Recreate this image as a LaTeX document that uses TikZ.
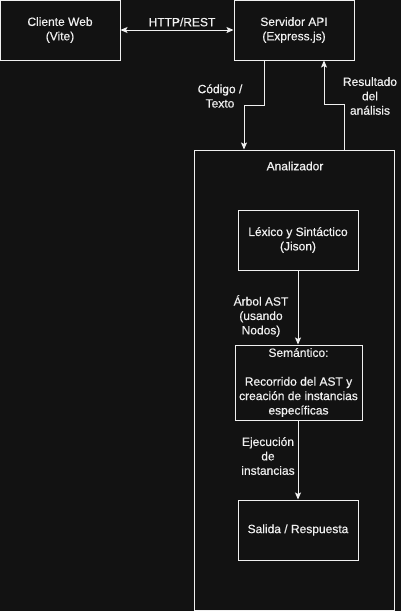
\documentclass[tikz,border=0pt]{standalone}
\usepackage{fontspec}
\setmainfont{Liberation Sans}[UprightFeatures={FakeBold=0.5}]
\usetikzlibrary{arrows.meta}
\definecolor{fondo}{HTML}{121212}
\definecolor{trazo}{HTML}{F0F0F0}

\tikzset{
	caja/.style={draw=trazo, line width=1pt, fill=fondo, text=trazo, align=center,
		minimum width=120pt, minimum height=60pt, inner sep=0pt,
		font=\fontsize{12}{14.4}\selectfont},
	etiqueta/.style={text=trazo, align=center, inner sep=1pt,
		font=\fontsize{12}{14.4}\selectfont},
	flecha/.style={draw=trazo, line width=1pt, -{Stealth[length=7pt,width=6pt,inset=1.5pt]}},
}

\begin{document}
\begin{tikzpicture}[x=1pt, y=-1pt]
			%%%%% START %%%%%
			
			\fill[fondo] (0, 0) rectangle (401, 611);
			\useasboundingbox (0, 0) rectangle (401, 611);
			
			% contenedor
			\node[caja, minimum width=200pt, minimum height=460pt] (analizador) at (294, 380) {};
			\node[etiqueta] (tituloanalizador) at (295, 166) {Analizador};
			
			% cajas
			\node[caja] (cliente) at (60, 30) {Cliente Web\\(Vite)};
			\node[caja] (servidor) at (294, 30) {Servidor API\\(Express.js)};
			\node[caja] (lexico) at (298, 240) {Léxico y Sintáctico\\(Jison)};
			\node[caja, minimum width=127pt, minimum height=75pt] (semantico) at (298.5, 382.5)
				{Semántico:\\[14.4pt]Recorrido del AST y\\creación de instancias\\específicas};
			\node[caja] (salida) at (298, 530) {Salida / Respuesta};
			
			% conexiones
			\draw[flecha, {Stealth[length=7pt,width=6pt,inset=1.5pt]}-{Stealth[length=7pt,width=6pt,inset=1.5pt]}]
				(cliente.east) -- (servidor.west);
			\draw[flecha] ([xshift=-30pt]servidor.south) -- ++(0, 45) -| ([xshift=-50pt]analizador.north);
			\draw[flecha] ([xshift=50pt]analizador.north) -- ++(0, -45) -| ([xshift=30pt]servidor.south);
			\draw[flecha] (lexico.south) -- (lexico.south |- semantico.north);
			\draw[flecha] (semantico.south -| salida.north) -- (salida.north);
			
			% etiquetas
			\node[etiqueta] (http) at (182, 22) {HTTP/REST};
			\node[etiqueta] (codigo) at (220, 96) {Código /\\Texto};
			\node[etiqueta] (resultado) at (370, 96) {Resultado\\del\\análisis};
			\node[etiqueta] (arbol) at (261, 316) {Árbol AST\\(usando\\Nodos)};
			\node[etiqueta] (ejecucion) at (268, 456) {Ejecución\\de\\instancias};
			
			%%%%% END %%%%%
\end{tikzpicture}
\end{document}
